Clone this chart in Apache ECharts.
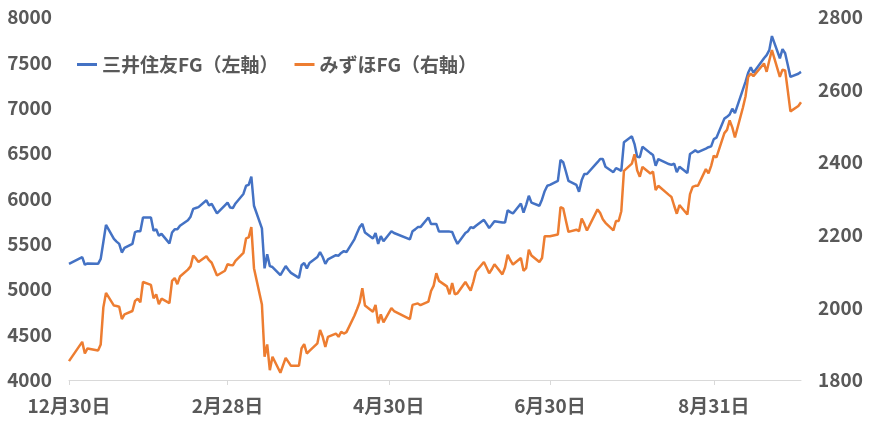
<!DOCTYPE html>
<html>
<head>
<meta charset="utf-8">
<script src="https://cdn.jsdelivr.net/npm/echarts@6/dist/echarts.min.js"></script>
<style>
html,body{margin:0;padding:0;background:#fff;}
#chart{width:870px;height:435px;}
</style>
</head>
<body>
<div id="chart"></div>
<script>
const seriesNames = ['三井住友FG（左軸）', 'みずほFG（右軸）'];
const tickDates = ['2022-12-30', '2023-02-28', '2023-04-30', '2023-06-30', '2023-08-31'];
const axisEndDate = '2023-10-03';
const leftTicks = [4000, 8000, 500];
const rightTicks = [1800, 2800, 200];

const dates = [
'2022-12-30','2023-01-04','2023-01-05','2023-01-06','2023-01-10','2023-01-11','2023-01-12','2023-01-13',
'2023-01-16','2023-01-17','2023-01-18','2023-01-19','2023-01-20','2023-01-23','2023-01-24','2023-01-25',
'2023-01-26','2023-01-27','2023-01-30','2023-01-31','2023-02-01','2023-02-02','2023-02-03','2023-02-06',
'2023-02-07','2023-02-08','2023-02-09','2023-02-10','2023-02-13','2023-02-14','2023-02-15','2023-02-16',
'2023-02-17','2023-02-20','2023-02-21','2023-02-22','2023-02-24','2023-02-27','2023-02-28','2023-03-01',
'2023-03-02','2023-03-03','2023-03-06','2023-03-07','2023-03-08','2023-03-09','2023-03-10','2023-03-13',
'2023-03-14','2023-03-15','2023-03-16','2023-03-17','2023-03-20','2023-03-22','2023-03-23','2023-03-24',
'2023-03-27','2023-03-28','2023-03-29','2023-03-30','2023-03-31','2023-04-03','2023-04-04','2023-04-05',
'2023-04-06','2023-04-07','2023-04-10','2023-04-11','2023-04-12','2023-04-13','2023-04-14','2023-04-17',
'2023-04-18','2023-04-19','2023-04-20','2023-04-21','2023-04-24','2023-04-25','2023-04-26','2023-04-27',
'2023-04-28','2023-05-01','2023-05-02','2023-05-08','2023-05-09','2023-05-10','2023-05-11','2023-05-12',
'2023-05-15','2023-05-16','2023-05-17','2023-05-18','2023-05-19','2023-05-22','2023-05-23','2023-05-24',
'2023-05-25','2023-05-26','2023-05-29','2023-05-30','2023-05-31','2023-06-01','2023-06-02','2023-06-05',
'2023-06-06','2023-06-07','2023-06-08','2023-06-09','2023-06-12','2023-06-13','2023-06-14','2023-06-15',
'2023-06-16','2023-06-19','2023-06-20','2023-06-21','2023-06-22','2023-06-23','2023-06-26','2023-06-27',
'2023-06-28','2023-06-29','2023-06-30','2023-07-03','2023-07-04','2023-07-05','2023-07-06','2023-07-07',
'2023-07-10','2023-07-11','2023-07-12','2023-07-13','2023-07-14','2023-07-18','2023-07-19','2023-07-20',
'2023-07-21','2023-07-24','2023-07-25','2023-07-26','2023-07-27','2023-07-28','2023-07-31','2023-08-01',
'2023-08-02','2023-08-03','2023-08-04','2023-08-07','2023-08-08','2023-08-09','2023-08-10','2023-08-14',
'2023-08-15','2023-08-16','2023-08-17','2023-08-18','2023-08-21','2023-08-22','2023-08-23','2023-08-24',
'2023-08-25','2023-08-28','2023-08-29','2023-08-30','2023-08-31','2023-09-01','2023-09-04','2023-09-05',
'2023-09-06','2023-09-07','2023-09-08','2023-09-11','2023-09-12','2023-09-13','2023-09-14','2023-09-15',
'2023-09-19','2023-09-20','2023-09-21','2023-09-22','2023-09-25','2023-09-26','2023-09-27','2023-09-28',
'2023-09-29','2023-10-02','2023-10-03'
];

const smfg = [
5280,5355,5270,5285,5280,5335,5520,5710,
5555,5525,5500,5405,5455,5500,5630,5640,
5640,5790,5790,5645,5660,5590,5610,5505,
5625,5660,5660,5700,5760,5800,5885,5895,
5905,5980,5925,5940,5835,5925,5955,5900,
5895,5945,6050,6140,6150,6240,5920,5670,
5230,5385,5255,5245,5155,5255,5215,5180,
5125,5265,5290,5230,5290,5355,5410,5355,
5280,5330,5375,5370,5400,5420,5410,5550,
5620,5685,5720,5625,5560,5620,5500,5585,
5530,5640,5620,5550,5640,5660,5685,5685,
5790,5720,5720,5720,5635,5635,5635,5630,
5560,5500,5620,5640,5685,5675,5700,5765,
5720,5675,5710,5750,5735,5735,5870,5850,
5835,5945,5845,5930,6030,5955,5920,5990,
6080,6140,6150,6195,6425,6400,6300,6195,
6150,6075,6200,6270,6270,6400,6435,6435,
6350,6290,6335,6320,6305,6620,6685,6600,
6460,6455,6570,6500,6480,6360,6435,6380,
6370,6385,6290,6350,6280,6490,6510,6530,
6510,6550,6565,6575,6655,6670,6880,6900,
6925,6990,6940,7200,7285,7385,7445,7385,
7545,7580,7635,7790,7545,7645,7600,7470,
7340,7375,7395
];

const mizuho = [
1852,1905,1873,1887,1881,1898,2000,2040,
2005,2004,2002,1968,1981,1990,2018,2024,
2014,2070,2062,2025,2036,2009,2024,2012,
2073,2081,2064,2085,2104,2113,2143,2135,
2125,2141,2130,2123,2088,2101,2119,2117,
2116,2128,2150,2190,2193,2221,2108,2008,
1864,1898,1827,1864,1820,1861,1850,1839,
1839,1887,1899,1873,1880,1901,1938,1919,
1891,1919,1928,1919,1933,1928,1932,1977,
1995,2014,2053,2005,1988,2007,1956,1981,
1959,1998,1990,1968,2007,2009,2011,2006,
2016,2045,2060,2094,2073,2058,2036,2067,
2036,2039,2070,2058,2046,2070,2099,2125,
2110,2094,2105,2119,2091,2110,2145,2130,
2118,2136,2101,2108,2159,2143,2125,2136,
2196,2196,2196,2201,2276,2273,2240,2208,
2214,2210,2245,2230,2212,2270,2260,2243,
2233,2212,2238,2238,2265,2376,2396,2422,
2378,2360,2387,2369,2374,2323,2335,2310,
2304,2280,2258,2282,2256,2312,2332,2335,
2335,2381,2369,2390,2418,2413,2480,2489,
2515,2496,2468,2550,2581,2635,2644,2637,
2672,2649,2680,2709,2635,2655,2653,2597,
2540,2555,2565
];

function parseDay(s) {
  const p = s.split('-').map(Number);
  return Date.UTC(p[0], p[1] - 1, p[2]) / 864e5;
}
const base = parseDay(dates[0]);
const toX = s => parseDay(s) - base;
const tickX = tickDates.map(toX);
function fmt(v) {
  const d = new Date((v + base) * 864e5);
  return (d.getUTCMonth() + 1) + '月' + d.getUTCDate() + '日';
}
const plain = v => String(v);

const FONT = "'Noto Sans CJK JP', 'Noto Sans', sans-serif";
const labelStyle = { color: '#595959', fontSize: 19, fontWeight: 'bold', fontFamily: FONT };

const chart = echarts.init(document.getElementById('chart'), null, { renderer: 'canvas' });
chart.setOption({
  animation: false,
  backgroundColor: '#ffffff',
  textStyle: { fontFamily: FONT },
  grid: { left: 69, right: 69, top: 17, bottom: 55, containLabel: false },
  legend: {
    left: 72, top: 50,
    icon: 'rect', itemWidth: 20, itemHeight: 3, itemGap: 16,
    textStyle: { color: '#595959', fontSize: 19, fontWeight: 'bold', fontFamily: FONT },
    data: seriesNames
  },
  xAxis: {
    type: 'value',
    min: 0,
    max: toX(axisEndDate),
    axisLine: { show: true, lineStyle: { color: '#d9d9d9', width: 1 } },
    axisTick: { show: true, customValues: tickX, length: 5, lineStyle: { color: '#d9d9d9' } },
    axisLabel: Object.assign({ customValues: tickX, formatter: fmt, margin: 16 }, labelStyle),
    splitLine: { show: false }
  },
  yAxis: [
    {
      type: 'value', min: leftTicks[0], max: leftTicks[1], interval: leftTicks[2],
      axisLine: { show: false }, axisTick: { show: false }, splitLine: { show: false },
      axisLabel: Object.assign({ margin: 17, formatter: plain }, labelStyle)
    },
    {
      type: 'value', min: rightTicks[0], max: rightTicks[1], interval: rightTicks[2],
      position: 'right',
      axisLine: { show: false }, axisTick: { show: false }, splitLine: { show: false },
      axisLabel: Object.assign({ margin: 17, formatter: plain }, labelStyle)
    }
  ],
  series: [
    {
      name: seriesNames[0], type: 'line', yAxisIndex: 0,
      showSymbol: false, symbol: 'none',
      lineStyle: { color: '#4472C4', width: 2.5 }, itemStyle: { color: '#4472C4' },
      data: dates.map((d, i) => [toX(d), smfg[i]])
    },
    {
      name: seriesNames[1], type: 'line', yAxisIndex: 1,
      showSymbol: false, symbol: 'none',
      lineStyle: { color: '#ED7D31', width: 2.5 }, itemStyle: { color: '#ED7D31' },
      data: dates.map((d, i) => [toX(d), mizuho[i]])
    }
  ]
});
</script>
</body>
</html>
